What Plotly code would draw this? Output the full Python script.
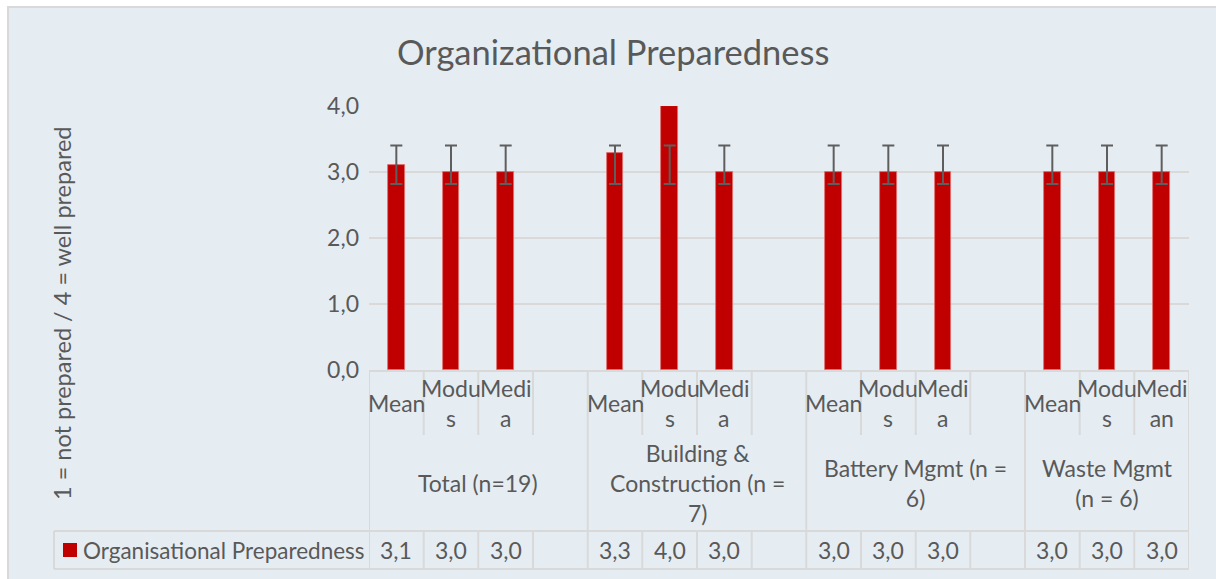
import plotly.graph_objects as go

# ---- data ----
groups = ["Total (n=19)", "Building &<br>Construction (n =<br>7)", "Battery Mgmt (n =<br>6)", "Waste Mgmt<br>(n = 6)"]
sub_labels = [["Mean", "Modu<br>s", "Medi<br>a"],
              ["Mean", "Modu<br>s", "Medi<br>a"],
              ["Mean", "Modu<br>s", "Medi<br>a"],
              ["Mean", "Modu<br>s", "Medi<br>an"]]
values = [3.11, 3.0, 3.0, 3.29, 4.0, 3.0, 3.0, 3.0, 3.0, 3.0, 3.0, 3.0]
err_low = [2.82] * 12
err_high = [3.40] * 12
series_name = "Organisational Preparedness"
title = "Organizational Preparedness"
y_title = "1 = not prepared / 4 = well prepared"

# ---- layout geometry (pixels) ----
W, H = 1216, 579
PL, PR, PT, PB = 369, 1189, 106, 370   # plot area
FONT = "Lato"
TXT = "#595959"
LINE = "#D9D9D9"
BG = "#E5EDF3"

def xp(px):
    return (px - PL) / (PR - PL)

def yp(py):
    return (PB - py) / (PB - PT)

# slot positions
xs, labels = [], []
for g, subs in enumerate(sub_labels):
    for i, s in enumerate(subs):
        xs.append(4 * g + i)
        labels.append(s)
n_slots = 15

mid = [(lo + hi) / 2 for lo, hi in zip(err_low, err_high)]
half = [(hi - lo) / 2 for lo, hi in zip(err_low, err_high)]

fig = go.Figure()
fig.add_trace(go.Bar(x=xs, y=values, width=0.31, name=series_name,
                     marker=dict(color="#C00000", line=dict(color="#E07070", width=0.8)),
                     showlegend=False))
fig.add_trace(go.Scatter(x=xs, y=mid, mode="markers", marker=dict(opacity=0, size=1),
                         error_y=dict(type="data", array=half, visible=True,
                                      color="#5E5E5E", thickness=2, width=6),
                         showlegend=False, hoverinfo="skip"))

shapes = []
# chart area background with border (left and top edges visible)
shapes.append(dict(type="rect", xref="paper", yref="paper", x0=xp(8), x1=xp(1260), y0=yp(700), y1=yp(7),
                   fillcolor=BG, line=dict(color=LINE, width=2), layer="below"))

def vline(xv, y0px, y1px, xref="x"):
    shapes.append(dict(type="line", xref=xref, yref="paper", x0=xv, x1=xv, y0=yp(y0px), y1=yp(y1px),
                       line=dict(color=LINE, width=2)))

def hline(x0px, x1px, ypx):
    shapes.append(dict(type="line", xref="paper", yref="paper", x0=xp(x0px), x1=xp(x1px), y0=yp(ypx), y1=yp(ypx),
                       line=dict(color=LINE, width=2)))

group_bounds = [-0.5, 3.5, 7.5, 11.5, 14.5]
for k in range(n_slots + 1):
    b = k - 0.5
    if b in group_bounds:
        vline(b, PB, 569)
    else:
        vline(b, PB, 435)
        vline(b, 531, 569)
hline(54, PR, 531)
hline(54, PR, 569)
vline(xp(54), 531, 569, xref="paper")
# legend key
shapes.append(dict(type="rect", xref="paper", yref="paper", x0=xp(63), x1=xp(77), y0=yp(557), y1=yp(543),
                   fillcolor="#C00000", line=dict(width=0)))

ann = []
fs = 23
for x, lab in zip(xs, labels):
    ann.append(dict(x=x, y=yp(403), xref="x", yref="paper", text=lab, showarrow=False,
                    font=dict(family=FONT, size=fs, color=TXT), xanchor="center", yanchor="middle"))
for x, v in zip(xs, values):
    ann.append(dict(x=x, y=yp(550), xref="x", yref="paper", text=f"{v:.1f}".replace(".", ","), showarrow=False,
                    font=dict(family=FONT, size=fs, color=TXT), xanchor="center", yanchor="middle"))
for g, name in enumerate(groups):
    lo = group_bounds[g]
    hi = group_bounds[g + 1]
    ann.append(dict(x=(lo + hi) / 2, y=yp(483), xref="x", yref="paper", text=name, showarrow=False,
                    font=dict(family=FONT, size=fs, color=TXT), xanchor="center", yanchor="middle"))
ann.append(dict(x=xp(81), y=yp(550), xref="paper", yref="paper", text=series_name, showarrow=False,
                font=dict(family=FONT, size=22.5, color=TXT), xanchor="left", yanchor="middle"))
ann.append(dict(x=xp(62), y=yp(313), xref="paper", yref="paper", text=y_title, showarrow=False, textangle=-90,
                font=dict(family=FONT, size=23.5, color=TXT), xanchor="center", yanchor="middle"))
ann.append(dict(x=xp(613), y=yp(52), xref="paper", yref="paper", text=title, showarrow=False,
                font=dict(family=FONT, size=34.5, color=TXT), xanchor="center", yanchor="middle"))

fig.update_layout(
    width=W, height=H,
    margin=dict(l=PL, r=W - PR, t=PT, b=H - PB, pad=0),
    paper_bgcolor="white", plot_bgcolor="rgba(0,0,0,0)",
    separators=",.",
    shapes=shapes, annotations=ann,
    xaxis=dict(range=[-0.5, n_slots - 0.5], showticklabels=False, showgrid=False, zeroline=False,
               showline=True, linecolor=LINE, linewidth=2, fixedrange=True),
    yaxis=dict(range=[0, 4], dtick=1, tickformat=".1f", showgrid=True, gridcolor=LINE, gridwidth=1.5,
               zeroline=False, tickfont=dict(family=FONT, size=fs, color=TXT), ticks="", ticklabelstandoff=9),
    bargap=0,
)
fig.write_html("out.html", config={"displayModeBar": False},
               post_script="document.body.style.margin='0';document.body.style.padding='0';")
